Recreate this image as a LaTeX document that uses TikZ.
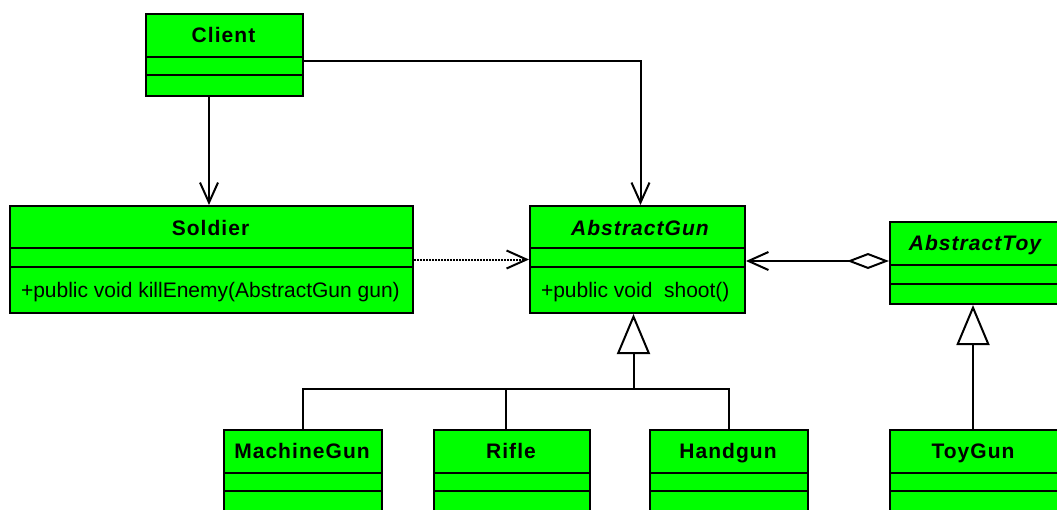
\documentclass[tikz,border=0pt]{standalone}
\usepackage{fontspec}
\setmainfont{Liberation Sans}
\usetikzlibrary{arrows.meta}
\definecolor{umlgreen}{RGB}{0,255,0}
\begin{document}
\begin{tikzpicture}[x=1pt,y=-1pt,line width=2pt,
  cls/.style={draw=black,fill=umlgreen,anchor=north west,inner sep=0pt,line width=2pt},
  ttl/.style={anchor=base,inner sep=0pt,font=\fontsize{21}{25}\selectfont\bfseries\addfontfeatures{LetterSpace=5}},
  ittl/.style={anchor=base,inner sep=0pt,font=\fontsize{21}{25}\selectfont\bfseries\itshape\addfontfeatures{LetterSpace=5}},
  meth/.style={anchor=base west,inner sep=0pt,font=\fontsize{21}{25}\selectfont},
  sepline/.style={line width=2pt},
  conn/.style={line width=2pt},
  openarrow/.style={conn,-{Straight Barb[length=20pt,width=18pt]}},
  genarrow/.style={conn,-{Triangle[open,length=40pt,width=33pt]}},
  dep/.style={dash pattern=on 1.6pt off 1.4pt},
]
\useasboundingbox (0,0) rectangle (1057,509);
% Client
\node[cls,minimum width=157,minimum height=82] (client) at (145,13) {};
\draw[sepline] (145,57) -- (304,57) (145,75) -- (304,75);
\node[ttl] (clientT) at (223.5,42) {Client};
% Soldier
\node[cls,minimum width=403,minimum height=107] (soldier) at (9,205) {};
\draw[sepline] (9,248) -- (414,248) (9,267) -- (414,267);
\node[ttl] (soldierT) at (210.5,235.5) {Soldier};
\node[meth] (soldierM) at (20,297.5) {+public void killEnemy(AbstractGun gun)};
% AbstractGun
\node[cls,minimum width=215,minimum height=107] (gun) at (529,205) {};
\draw[sepline] (529,248) -- (746,248) (529,267) -- (746,267);
\node[ittl] (gunT) at (640,235.5) {AbstractGun};
\node[meth] (gunM) at (540,297.5) {+public void\ \ shoot()};
% AbstractToy
\node[cls,minimum width=180,minimum height=82] (toy) at (889,221) {};
\draw[sepline] (889,265) -- (1069,265) (889,284) -- (1069,284);
\node[ittl] (toyT) at (975,250.5) {AbstractToy};
% MachineGun
\node[cls,minimum width=158,minimum height=100] (mg) at (223,429) {};
\draw[sepline] (223,473) -- (383,473) (223,491) -- (383,491);
\node[ttl] (mgT) at (302,458.5) {MachineGun};
% Rifle
\node[cls,minimum width=156,minimum height=100] (rifle) at (433,429) {};
\draw[sepline] (433,473) -- (591,473) (433,491) -- (591,491);
\node[ttl] (rifleT) at (511,458.5) {Rifle};
% Handgun
\node[cls,minimum width=158,minimum height=100] (hg) at (649,429) {};
\draw[sepline] (649,473) -- (809,473) (649,491) -- (809,491);
\node[ttl] (hgT) at (728,458.5) {Handgun};
% ToyGun
\node[cls,minimum width=180,minimum height=100] (toygun) at (889,429) {};
\draw[sepline] (889,473) -- (1069,473) (889,491) -- (1069,491);
\node[ttl] (toygunT) at (973,458.5) {ToyGun};
% connectors
\draw[openarrow] ([xshift=-15.5pt]client.south) -- ([xshift=-15.5pt]client.south |- soldier.north);
\draw[openarrow] ([yshift=-6pt]client.east) -| ([xshift=3pt]gun.north);
\draw[dep,openarrow] (soldier.east) -- (gun.west);
\draw[conn,{Diamond[open,length=42pt,width=16pt]}-{Straight Barb[length=20pt,width=18pt]}] ([yshift=2pt]toy.west) -- ([yshift=2pt]toy.west -| gun.east);
\coordinate (junction) at ([xshift=-4pt]gun.south |- 0,389);
\draw[genarrow] (junction) -- ([xshift=-4pt]gun.south);
\draw[conn] (mg.north) |- (hg.north |- junction) -- (hg.north);
\draw[conn] ([xshift=-6pt]rifle.north) -- ([xshift=-6pt]rifle.north |- junction);
\draw[genarrow] (toygun.north -| 973,0) -- (toy.south -| 973,0);
\end{tikzpicture}
\end{document}
